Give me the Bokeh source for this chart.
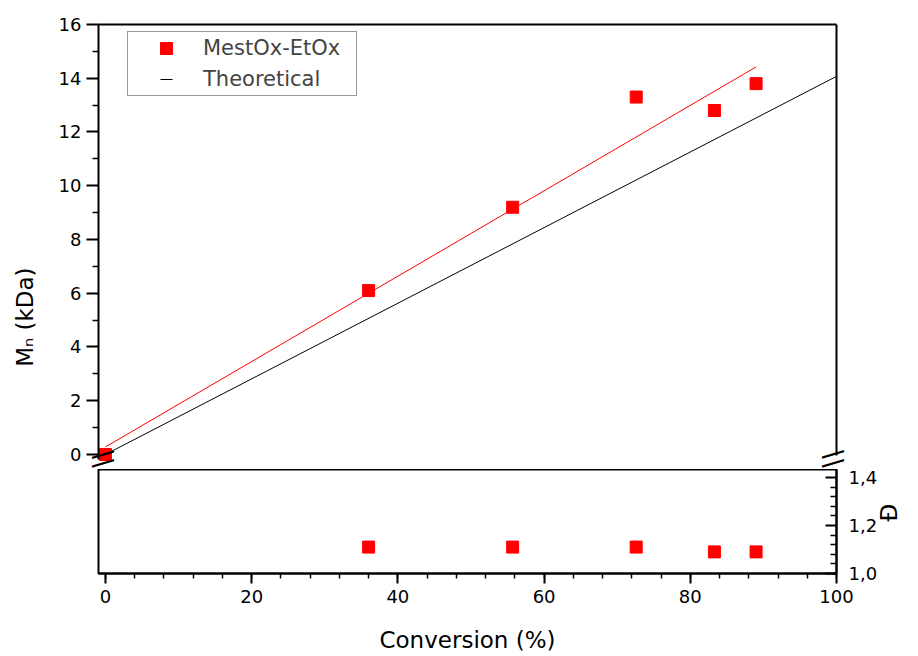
import math
from bokeh.plotting import figure
from bokeh.layouts import column
from bokeh.models import (Range1d, LinearAxis, FixedTicker, SingleIntervalTicker,
                          Legend, LegendItem, CustomJSTickFormatter)
from bokeh.embed import file_html
from bokeh.resources import INLINE

# ---------------- data ----------------
conversion = [0.0, 36.0, 55.7, 72.6, 83.3, 89.0]          # %
mn_kda = [0.0, 6.1, 9.2, 13.3, 12.8, 13.8]                 # kDa
disp_conversion = [36.0, 55.7, 72.6, 83.3, 89.0]           # %
dispersity = [1.11, 1.11, 1.11, 1.09, 1.09]                # Đ
fit_conversion = [0.0, 89.0]
fit_mn = [0.28, 14.42]
theo_conversion = [0.0, 100.0]
theo_mn = [0.0, 14.07]

x_tick_interval = 20
mn_ticks = [0, 2, 4, 6, 8, 10, 12, 14, 16]
mn_minor_ticks = [1, 3, 5, 7, 9, 11, 13, 15]
d_ticks = [1.0, 1.2, 1.4]
d_minor_ticks = [1.04, 1.08, 1.12, 1.16, 1.24, 1.28, 1.32, 1.36]

x_limits = (-0.95, 100.0)
mn_panel_limits = (-0.335, 16.0)   # Mn range of the upper panel
d_panel_limits = (1.0, 1.433)      # Đ range of the lower panel

# axis breaks (Mn units): where the upper axis lines stop
left_axis_bounds = (-0.2, 16.0)
right_line_bounds = (-0.04, 16.0)

# ---------------- layout (pixels) ----------------
W = 918
B_LEFT, B_RIGHT = 98, 79
TOP_H, BOT_H = 469, 186
FONT = "DejaVu Sans"
BREAK_MARK = "\\\\"                # two slashes, turned by the axis into "//"
NBSP = "\u00a0"
LEFT_BREAK_PAD, RIGHT_BREAK_PAD = 52, 52   # slides the marks down to the break


def style_axis(ax, size="18px"):
    ax.axis_line_width = 2
    ax.axis_line_color = "black"
    ax.major_tick_line_width = 2
    ax.minor_tick_line_width = 1.5
    ax.major_tick_line_color = "black"
    ax.minor_tick_line_color = "black"
    ax.major_label_text_font = FONT
    ax.major_label_text_font_size = size
    ax.major_label_text_color = "black"
    ax.axis_label_text_font = FONT
    ax.axis_label_text_font_size = "23px"
    ax.axis_label_text_font_style = "normal"
    ax.axis_label_text_color = "black"


def bare_axis(**kw):
    ax = LinearAxis(ticker=FixedTicker(ticks=[]), major_label_standoff=0, **kw)
    style_axis(ax)
    ax.major_tick_in = ax.major_tick_out = 0
    ax.minor_tick_in = ax.minor_tick_out = 0
    return ax


def break_mark_axis(text, standoff):
    ax = bare_axis()
    ax.axis_line_color = None
    ax.axis_label = text
    ax.axis_label_text_font_size = "26px"
    ax.axis_label_standoff = standoff
    return ax


# ================= upper panel =================
top = figure(width=W, height=TOP_H, output_backend="svg", toolbar_location=None,
             x_range=Range1d(*x_limits), y_range=Range1d(*mn_panel_limits),
             x_axis_location=None, y_axis_location="left",
             min_border_left=B_LEFT, min_border_right=B_RIGHT,
             min_border_top=24, min_border_bottom=TOP_H - 463)
top.outline_line_color = None
top.xgrid.visible = False
top.ygrid.visible = False
top.background_fill_color = "white"
top.border_fill_color = "white"

ya = top.yaxis[0]
ya.ticker = FixedTicker(ticks=mn_ticks, minor_ticks=mn_minor_ticks)
ya.bounds = left_axis_bounds
style_axis(ya)
ya.major_tick_in, ya.major_tick_out = 0, 12
ya.minor_tick_in, ya.minor_tick_out = 0, 6
ya.major_label_standoff = 5
ya.axis_label = "M\u2099 (kDa)" + NBSP * 20
ya.axis_label_standoff = 18

top.add_layout(break_mark_axis(BREAK_MARK + NBSP * LEFT_BREAK_PAD, -109), "left")
top.add_layout(bare_axis(), "above")
top.add_layout(bare_axis(bounds=right_line_bounds), "right")
top.add_layout(break_mark_axis(NBSP * RIGHT_BREAK_PAD + BREAK_MARK, -19), "right")

top.line(theo_conversion, theo_mn, line_color="black", line_width=1)
top.line(fit_conversion, fit_mn, line_color="#ff0000", line_width=1)
sq = top.scatter(conversion, mn_kda, marker="square", size=12,
                 fill_color="#ff0000", line_color="#ff0000")
# legend stand-in for the theoretical line: a short dash (size 0, so nothing shows in the plot)
dash = top.scatter(theo_conversion, theo_mn, marker="dash", size=0,
                   line_color="black", line_width=1)

legend = Legend(items=[LegendItem(label="MestOx-EtOx", renderers=[sq]),
                       LegendItem(label="Theoretical", renderers=[dash])],
                location=(29, 463 - 96), margin=0, padding=1, spacing=1,
                glyph_width=74, glyph_height=30, label_height=30, label_width=152,
                label_standoff=0, label_text_font=FONT, label_text_font_size="21px",
                border_line_color="#333333", border_line_width=1,
                background_fill_color="white", background_fill_alpha=1.0)
top.add_layout(legend)

# ================= lower panel =================
bot = figure(width=W, height=BOT_H, output_backend="svg", toolbar_location=None,
             x_range=top.x_range, y_range=Range1d(*d_panel_limits),
             y_axis_location="right",
             min_border_left=B_LEFT, min_border_right=B_RIGHT,
             min_border_top=0, min_border_bottom=BOT_H - 104)
bot.outline_line_color = "black"
bot.outline_line_width = 2
bot.xgrid.visible = False
bot.ygrid.visible = False
bot.background_fill_color = "white"
bot.border_fill_color = "white"

xa = bot.xaxis[0]
xa.ticker = SingleIntervalTicker(interval=x_tick_interval, num_minor_ticks=5)
style_axis(xa)
xa.major_tick_in, xa.major_tick_out = 0, 10
xa.minor_tick_in, xa.minor_tick_out = 0, 5
xa.major_label_standoff = 6
xa.axis_label = "Conversion (%)"
xa.axis_label_standoff = 21

ra = bot.yaxis[0]
ra.ticker = FixedTicker(ticks=d_ticks, minor_ticks=d_minor_ticks)
ra.formatter = CustomJSTickFormatter(code="return tick.toFixed(1).replace('.', ',');")
style_axis(ra)
ra.major_tick_in, ra.major_tick_out = 11, 0
ra.minor_tick_in, ra.minor_tick_out = 6, 0
ra.major_label_standoff = 12
ra.axis_label = "\u0110"
ra.axis_label_standoff = 9
try:
    ra.axis_label_orientation = math.pi / 2
except Exception:
    pass

bot.scatter(disp_conversion, dispersity, marker="square", size=12,
            fill_color="#ff0000", line_color="#ff0000")

layout = column(top, bot, spacing=0)
open("out.html", "w").write(file_html(layout, INLINE))
